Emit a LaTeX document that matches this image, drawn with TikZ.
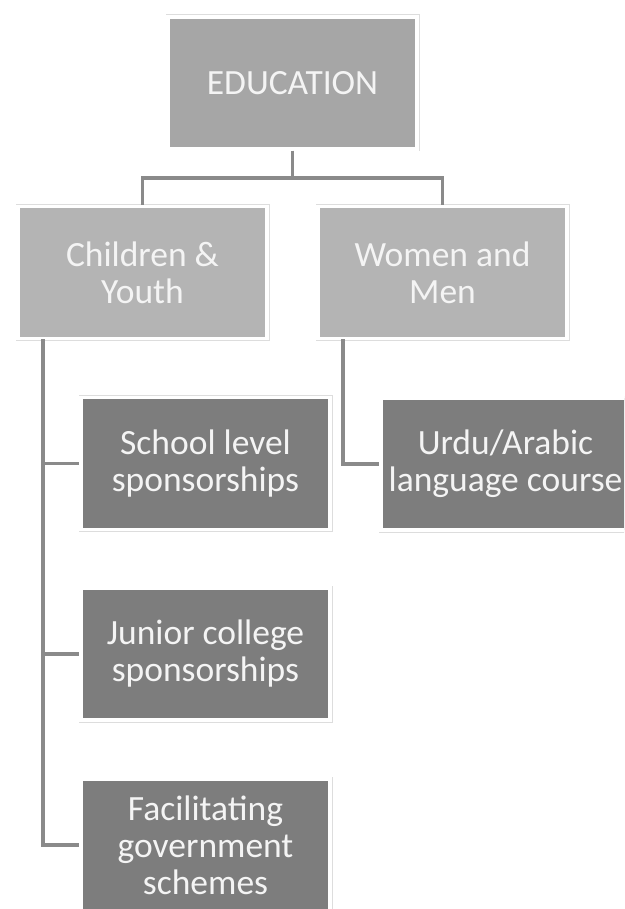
\documentclass[tikz,border=0pt]{standalone}
\usepackage{fontspec}
\setmainfont{Carlito}
\definecolor{topgray}{HTML}{A6A6A6}
\definecolor{midgray}{HTML}{B4B4B4}
\definecolor{lowgray}{HTML}{7D7D7D}
\definecolor{linkgray}{HTML}{8A8A8A}
\definecolor{edgegray}{HTML}{DDDDDD}
\definecolor{textwhite}{HTML}{F4F4F4}
\tikzset{
  box/.style={rectangle, minimum width=249pt, minimum height=132pt, inner sep=0pt,
    preaction={draw=edgegray, line width=5pt}, draw=white, line width=3.5pt,
    text=textwhite, align=center, font=\fontsize{35.5}{37}\selectfont},
  topbox/.style={box, fill=topgray},
  midbox/.style={box, fill=midgray},
  lowbox/.style={box, fill=lowgray},
  link/.style={draw=linkgray, line width=3.2pt}
}
\begin{document}
\begin{tikzpicture}[x=1pt,y=-1pt]
      \useasboundingbox (0,0) rectangle (624,909);
      \clip (0,0) rectangle (624,909);

      \begin{scope}[every node/.style={}]
        \node[topbox] (edu)    at (292.5,83)  {EDUCATION};
        \node[midbox] (cy)     at (142.5,272.5) {Children \&\\Youth};
        \node[midbox] (wm)     at (442.5,272.5) {Women and\\Men};
        \node[lowbox] (school) at (205.5,463.5) {School level\\sponsorships};
        \node[lowbox] (junior) at (205.5,654)   {Junior college\\sponsorships};
        \node[lowbox] (facil)  at (205.5,845)   {Facilitating\\government\\schemes};
        \node[lowbox] (urdu)   at (505.5,464)   {Urdu/Arabic\\language course};
      \end{scope}

      \coordinate (split)   at (292.5,178);
      \coordinate (cytrunk) at (43,339);
      \coordinate (wmtrunk) at (343,339);

      \begin{scope}[every path/.style={link}]
        \path (edu.south) -- (split);
        \path (split) -| (cy.north);
        \path (split) -| (wm.north);
        \path (cytrunk) |- (school.west);
        \path (cytrunk) |- (junior.west);
        \path (cytrunk) |- (facil.west);
        \path (wmtrunk) |- (urdu.west);
      \end{scope}

    \end{tikzpicture}
\end{document}
